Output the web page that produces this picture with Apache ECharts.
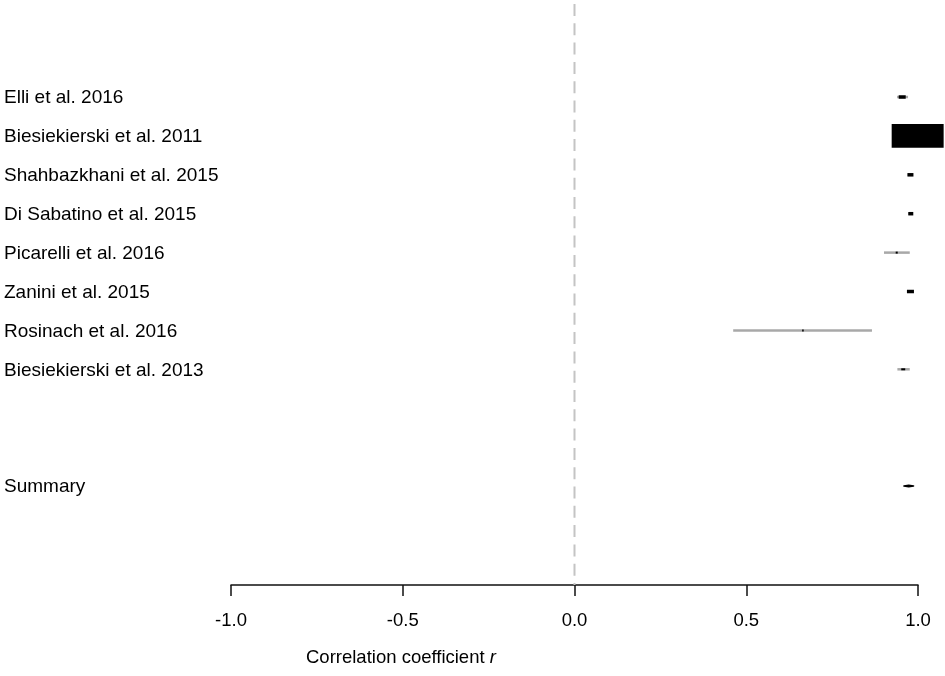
<!DOCTYPE html>
<html>
<head>
<meta charset="utf-8">
<script src="https://cdn.jsdelivr.net/npm/echarts@6/dist/echarts.min.js"></script>
<style>
  html, body { margin: 0; padding: 0; background: #fff; }
  #main { width: 945px; height: 676px; }
</style>
</head>
<body>
<div id="main"></div>
<script>
  // studies, top to bottom
  var studies = ['Elli et al. 2016', 'Biesiekierski et al. 2011', 'Shahbazkhani et al. 2015',
    'Di Sabatino et al. 2015', 'Picarelli et al. 2016', 'Zanini et al. 2015',
    'Rosinach et al. 2016', 'Biesiekierski et al. 2013'];
  var rValues = [0.954, 0.999, 0.978, 0.979, 0.938, 0.978, 0.665, 0.957];
  var ciLower = [0.939, 0.990, 0.970, 0.972, 0.901, 0.970, 0.462, 0.940];
  var ciUpper = [0.971, 1.000, 0.984, 0.985, 0.976, 0.986, 0.866, 0.976];
  var weights = [8.3, 61.5, 7.1, 5.9, 2.4, 8.3, 1.8, 4.7]; // % weight, sets box size

  var summaryLabel = 'Summary';
  var summaryR = 0.973;
  var summaryLower = 0.957;
  var summaryUpper = 0.989;
  var summaryRow = 10;

  var xTicks = [-1.0, -0.5, 0.0, 0.5, 1.0];

  var font = "'Liberation Sans', Arial, Helvetica, sans-serif";

  var studyData = [];
  for (var i = 0; i < studies.length; i++) {
    studyData.push([rValues[i], ciLower[i], ciUpper[i], i, weights[i], studies[i]]);
  }

  var chart = echarts.init(document.getElementById('main'));
  chart.setOption({
    backgroundColor: '#fff',
    animation: false,
    grid: { left: 231, right: 27, top: 0, height: 585 },
    xAxis: {
      type: 'value',
      min: xTicks[0],
      max: xTicks[xTicks.length - 1],
      interval: 0.5,
      splitLine: { show: false },
      axisLine: { onZero: false, lineStyle: { color: '#111', width: 1.5 } },
      axisTick: { length: 11, lineStyle: { color: '#111', width: 1.5 } },
      axisLabel: {
        margin: 26,
        color: '#000',
        fontSize: 18.5,
        fontFamily: font,
        formatter: function (v) { return v.toFixed(1); }
      }
    },
    yAxis: {
      type: 'value',
      inverse: true,
      min: -2.494,
      max: 12.545,
      show: false
    },
    graphic: [{
      type: 'text',
      left: 306,
      top: 648,
      style: {
        text: '{n|Correlation coefficient }{i|r}',
        rich: {
          n: { fontSize: 18.5, fontFamily: font, fill: '#000' },
          i: { fontSize: 18.5, fontFamily: font, fontStyle: 'italic', fill: '#000' }
        }
      }
    }],
    series: [
      {
        // null line at r = 0
        type: 'line',
        data: [[0, -2.494], [0, 12.545]],
        symbol: 'none',
        lineStyle: { color: '#c4c4c4', width: 2, type: [12, 7.3], dashOffset: 15.3 },
        silent: true,
        z: 1
      },
      {
        type: 'custom',
        data: studyData,
        clip: false,
        renderItem: function (params, api) {
          var r = api.value(0), lo = api.value(1), hi = api.value(2);
          var row = api.value(3), w = api.value(4) * 0.845;
          var c = api.coord([r, row]);
          var pLo = api.coord([lo, row]);
          var pHi = api.coord([hi, row]);
          var h = Math.max(w / 2.2, 2);
          if (w > 4 && h < 3.5) h = 3.5;
          return {
            type: 'group',
            children: [
              {
                type: 'line',
                shape: { x1: pLo[0], y1: pLo[1], x2: pHi[0], y2: pHi[1] },
                style: { stroke: '#a8a8a8', lineWidth: 2.5 }
              },
              {
                type: 'rect',
                shape: { x: c[0] - w / 2, y: c[1] - h / 2, width: w, height: h },
                style: { fill: '#000' }
              },
              {
                type: 'text',
                x: 4,
                y: c[1] + 1,
                style: {
                  text: studyData[params.dataIndex][5],
                  fontSize: 19,
                  fontFamily: font,
                  fill: '#000',
                  verticalAlign: 'middle',
                  align: 'left'
                }
              }
            ]
          };
        },
        z: 3
      },
      {
        type: 'custom',
        data: [[summaryR, summaryLower, summaryUpper, summaryRow]],
        clip: false,
        renderItem: function (params, api) {
          var row = api.value(3);
          var c = api.coord([api.value(0), row]);
          var pLo = api.coord([api.value(1), row]);
          var pHi = api.coord([api.value(2), row]);
          return {
            type: 'group',
            children: [
              {
                type: 'polygon',
                shape: { points: [[pLo[0] + 0.7, c[1]], [c[0], c[1] - 0.7], [pHi[0] - 0.7, c[1]], [c[0], c[1] + 0.7]] },
                style: { fill: '#000', stroke: '#000', lineWidth: 1.6, lineJoin: 'round' }
              },
              {
                type: 'text',
                x: 4,
                y: c[1] + 1,
                style: {
                  text: summaryLabel,
                  fontSize: 19,
                  fontFamily: font,
                  fill: '#000',
                  verticalAlign: 'middle',
                  align: 'left'
                }
              }
            ]
          };
        },
        z: 3
      }
    ]
  });
</script>
</body>
</html>
